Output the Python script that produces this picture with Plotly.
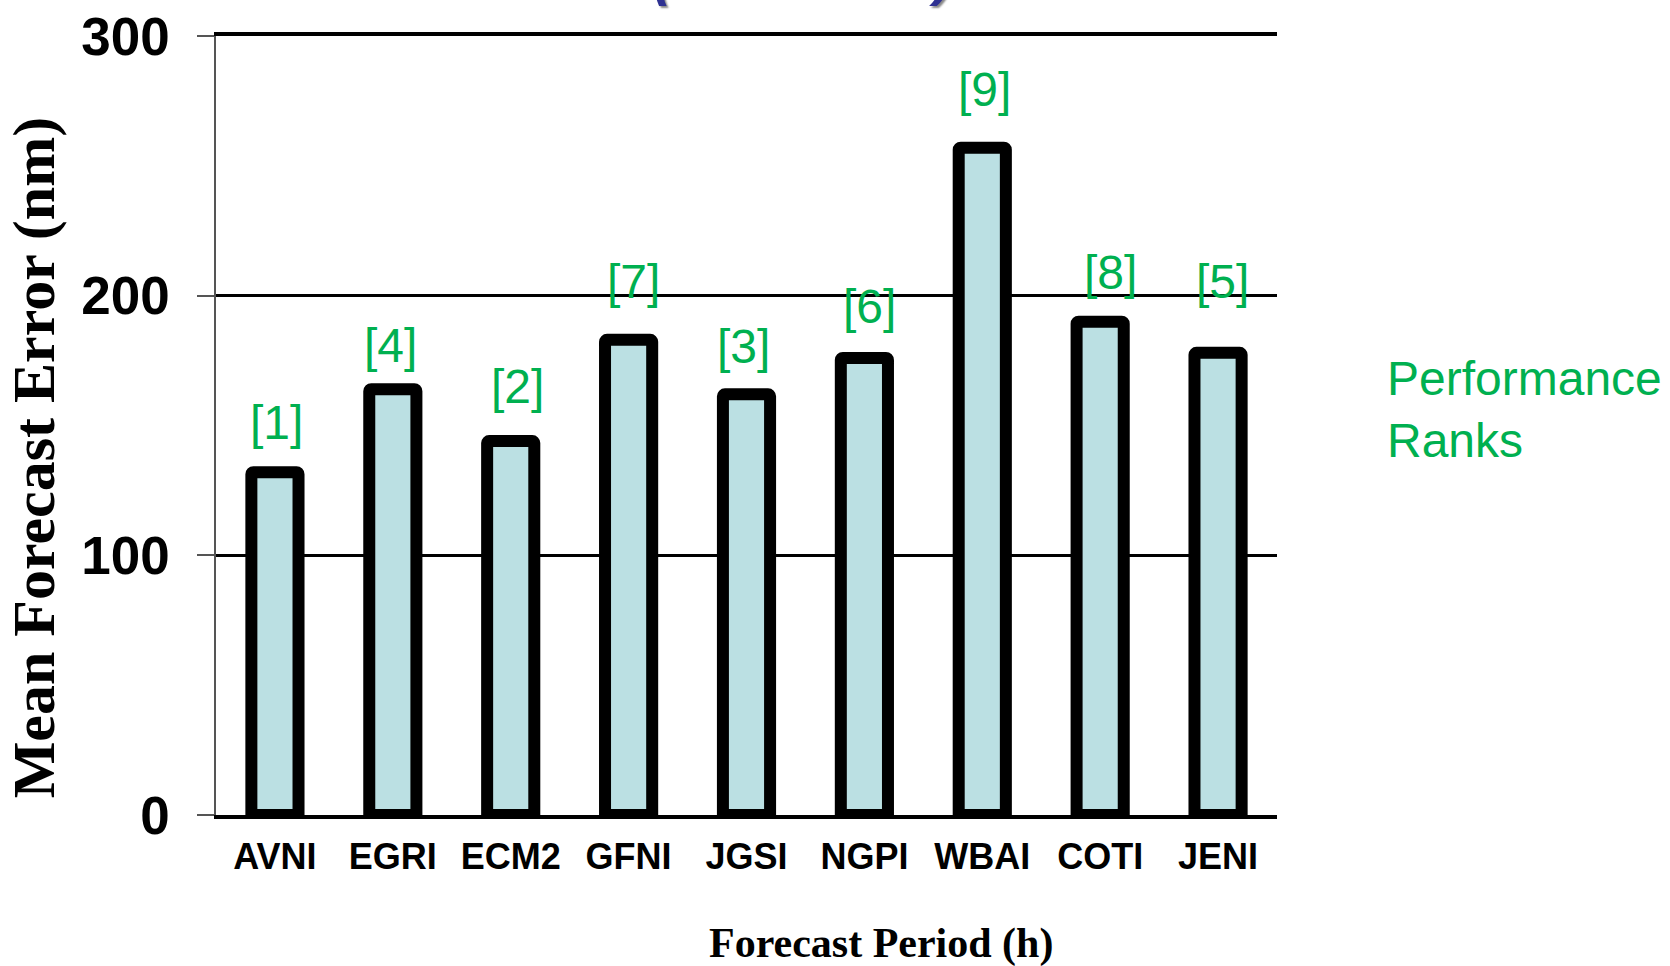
import plotly.graph_objects as go

# ---- data ----
models = ["AVNI", "EGRI", "ECM2", "GFNI", "JGSI", "NGPI", "WBAI", "COTI", "JENI"]
mean_error_nm = [132, 164, 144, 183, 162, 176, 257, 190, 178]
performance_rank = [1, 4, 2, 7, 3, 6, 9, 8, 5]
y_tick_values = [0, 100, 200, 300]

# ---- styling ----
GREEN = "#00B050"
BAR_FILL = "#BBE0E3"
TITLE_BLUE = "#2E3192"
SANS = "Liberation Sans, Arial, sans-serif"
SERIF = "Liberation Serif, Times New Roman, serif"

# vertical / horizontal nudges (px) for each rank label above its bar
rank_label_yshift = [50, 44, 55, 58, 48, 51, 58, 49, 71]
rank_label_xshift = [2, -2, 7, 5, -3, 5, 2, 10, 4]

fig = go.Figure()

fig.add_trace(go.Bar(
    x=models,
    y=mean_error_nm,
    width=0.40,
    marker=dict(color=BAR_FILL, line=dict(color="black", width=12), cornerradius=2),
    hoverinfo="x+y",
    showlegend=False,
))

annotations = []
for m, v, r, dy, dx in zip(models, mean_error_nm, performance_rank,
                           rank_label_yshift, rank_label_xshift):
    annotations.append(dict(
        x=m, y=v, xref="x", yref="y", text=f"[{r}]", showarrow=False,
        yanchor="middle", xanchor="center", yshift=dy, xshift=dx,
        font=dict(family=SANS, size=48, color=GREEN),
    ))

# side note explaining the bracketed numbers
annotations.append(dict(
    x=1.1016, y=0.521, xref="paper", yref="paper", showarrow=False,
    xanchor="left", yanchor="middle", align="left",
    text="Performance<br>Ranks",
    font=dict(family=SANS, size=48, color=GREEN),
))

# axis titles
annotations.append(dict(
    x=-0.172, y=0.4585, xref="paper", yref="paper", showarrow=False,
    xanchor="center", yanchor="middle", textangle=-90,
    text="<b>Mean Forecast Error (nm)</b>",
    font=dict(family=SERIF, size=60, color="black"),
))
annotations.append(dict(
    x=0.6268, y=-0.165, xref="paper", yref="paper", showarrow=False,
    xanchor="center", yanchor="middle",
    text="<b>Forecast Period (h)</b>",
    font=dict(family=SERIF, size=42, color="black"),
))

# brackets of the heading running off the top edge
for xp, ch in [(0.423, "("), (0.683, ")")]:
    annotations.append(dict(
        x=xp, y=1.036, xref="paper", yref="paper", showarrow=False,
        xanchor="center", yanchor="bottom", text=f"<b><i>{ch}</i></b>",
        font=dict(family=SANS, size=56, color=TITLE_BLUE,
                  shadow="2px 2px 2px #888"),
    ))

fig.update_layout(
    width=1670, height=966,
    margin=dict(l=216, r=393, t=36, b=151, pad=0),
    paper_bgcolor="white", plot_bgcolor="white",
    bargap=0.6,
    annotations=annotations,
    xaxis=dict(
        type="category",
        range=[-0.5, 8.5],
        automargin=False,
        showline=True, mirror=True, linecolor="black", linewidth=4,
        showgrid=False, ticks="", zeroline=False,
        tickfont=dict(family=SANS, size=36, color="black", weight="bold"),
        ticklabelstandoff=7,
    ),
    yaxis=dict(
        range=[0, 300],
        automargin=False,
        tickvals=y_tick_values,
        ticktext=[str(v) for v in y_tick_values],
        showline=True, linecolor="#555555", linewidth=1.5,
        ticks="outside", ticklen=17, tickwidth=1.5, tickcolor="#555555",
        showgrid=True, gridcolor="black", gridwidth=3,
        zeroline=False,
        tickfont=dict(family=SANS, size=53, color="black", weight="bold"),
        ticklabelstandoff=17,
    ),
)

fig.write_html("out.html")
